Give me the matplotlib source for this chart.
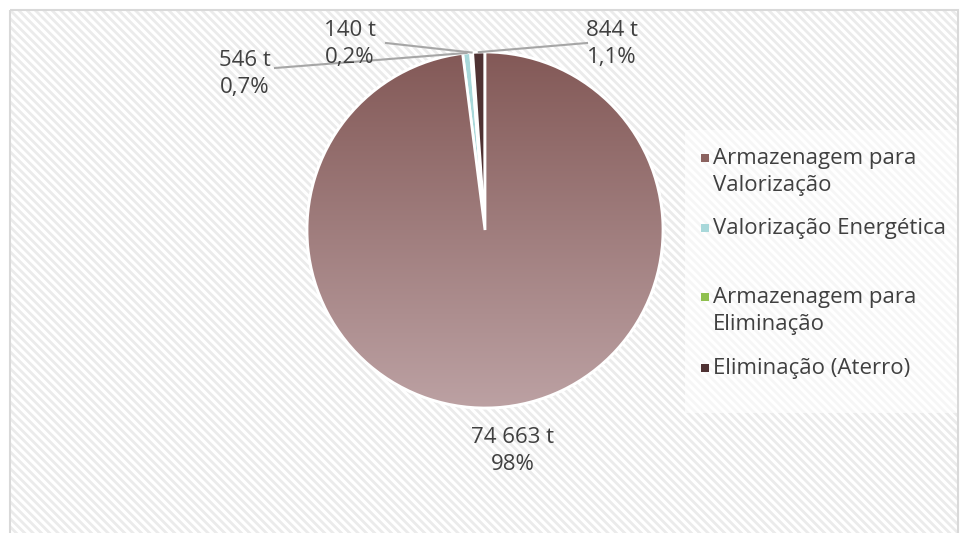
import numpy as np
import matplotlib.pyplot as plt
from matplotlib.patches import Rectangle, Wedge
import matplotlib.colors as mcolors

# data
categories = ['Armazenagem para\nValorização', 'Valorização Energética',
              'Armazenagem para\nEliminação', 'Eliminação (Aterro)']
tonnes = [74663, 546, 140, 844]
colors = ['#8b625f', '#a8d8da', '#8fc04f', '#4f3233']

total = float(sum(tonnes))


def fmt_label(v):
    p = v / total * 100
    t = '{:,}'.format(v).replace(',', ' ') + ' t'
    if p >= 10:
        ps = '{:.0f}%'.format(p)
    else:
        ps = '{:.1f}%'.format(p).replace('.', ',')
    return t + '\n' + ps


plt.rcParams['font.family'] = ['Open Sans', 'DejaVu Sans']
plt.rcParams['hatch.linewidth'] = 2.0
plt.rcParams['hatch.color'] = '#ebebeb'

fig = plt.figure(figsize=(9.6, 5.33), dpi=100)
ax = fig.add_axes([0, 0, 1, 1])

# chart area with diagonal stripes
ax.add_patch(Rectangle((10, 10), 948, 530, facecolor='white', edgecolor='#ebebeb',
                       hatch='\\\\\\\\', lw=0, zorder=0))
ax.add_patch(Rectangle((10, 10), 948, 530, facecolor='none',
                       edgecolor='#d9d9d9', lw=1.5, zorder=0.5))

cx, cy, r = 485, 230, 178
# y axis is inverted, so counterclock=True draws clockwise on screen
wedges, _ = ax.pie(tonnes, colors=colors, startangle=-90, counterclock=True,
                   center=(cx, cy), radius=r, frame=True,
                   wedgeprops=dict(edgecolor='white', linewidth=2))
for w in wedges:
    w.set_zorder(2)

# gradient on the big slice
grad = np.linspace(0, 1, 256).reshape(-1, 1)
cmap = mcolors.LinearSegmentedColormap.from_list('g', ['#835957', '#bca1a3'])
im = ax.imshow(grad, cmap=cmap, extent=(cx - r, cx + r, cy + r, cy - r),
               aspect='auto', zorder=2.5)
im.set_clip_path(wedges[0])
ax.add_patch(Wedge((cx, cy), r, wedges[0].theta1, wedges[0].theta2,
                   facecolor='none', edgecolor='white', lw=2, zorder=3))

# data labels
label_pos = [(513, 451), (245, 74), (350, 44), (612, 44)]
line_start = [None, (275, 68), (386, 43), (587, 43)]
for i, w in enumerate(wedges):
    tx, ty = label_pos[i]
    ax.text(tx, ty, fmt_label(tonnes[i]), ha='center', va='center',
            fontsize=16, color='#404040', linespacing=1.35, zorder=5)
    if line_start[i] is not None:
        a = np.deg2rad((w.theta1 + w.theta2) / 2)
        ex = cx + r * np.cos(a)
        ey = cy + r * np.sin(a)
        ax.plot([line_start[i][0], ex], [line_start[i][1], ey],
                color='#a6a6a6', lw=1.5, zorder=4)

# legend
ax.add_patch(Rectangle((685, 130), 272, 283, facecolor='white', alpha=0.6,
                       edgecolor='none', zorder=1))
leg_y = [158, 228, 297, 368]
for i, lab in enumerate(categories):
    ax.add_patch(Rectangle((701, leg_y[i] - 4), 8, 8, facecolor=colors[i],
                           edgecolor='none', zorder=5))
    ax.text(713, leg_y[i] - 10, lab, ha='left', va='top', fontsize=16,
            color='#404040', linespacing=1.35, zorder=5)

ax.set_xlim(0, 960)
ax.set_ylim(533, 0)
ax.axis('off')

fig.savefig('out.png', dpi=100)
